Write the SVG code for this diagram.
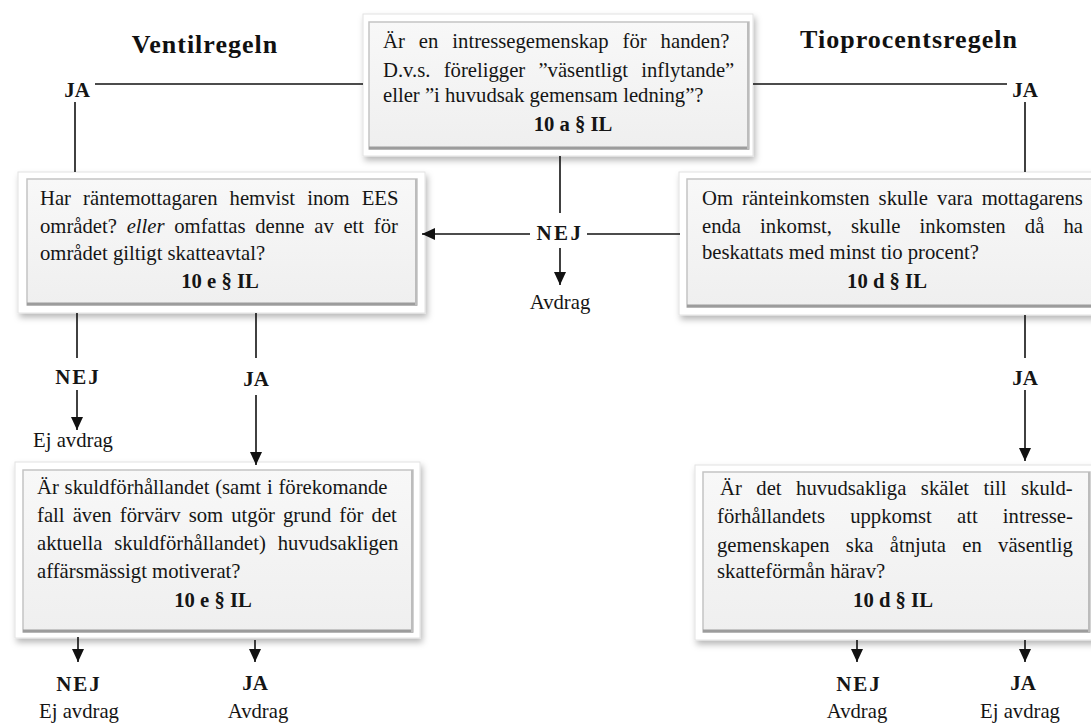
<svg xmlns="http://www.w3.org/2000/svg" width="1091" height="724" viewBox="0 0 1091 724">
<defs>
<style>
.t{font-family:"Liberation Serif","Times New Roman",serif;font-size:20.7px;fill:#151515}
.b{font-weight:bold}
.c{text-anchor:middle}
.lbl{font-family:"Liberation Serif","Times New Roman",serif;font-size:21px;font-weight:bold;fill:#151515;text-anchor:middle}
.ttl{font-family:"Liberation Serif","Times New Roman",serif;font-size:26px;font-weight:bold;fill:#111;text-anchor:middle;letter-spacing:1px}
.outer{fill:#ffffff;stroke:#e2e2e2;stroke-width:1;filter:url(#sh)}
.inner{fill:url(#pg);stroke:#c4c4c4;stroke-width:1.5}
.bot{stroke:#9c9c9c;stroke-width:3}
.rgt{stroke:#bcbcbc;stroke-width:2}
.ln{fill:none;stroke:#111;stroke-width:1.6}
.ar{marker-end:url(#arr)}
</style>
<linearGradient id="pg" x1="0" y1="0" x2="0" y2="1">
<stop offset="0" stop-color="#f8f8f8"/>
<stop offset="1" stop-color="#efefef"/>
</linearGradient>
<filter id="sh" x="-5%" y="-5%" width="115%" height="125%">
<feDropShadow dx="2" dy="4" stdDeviation="3" flood-color="#000" flood-opacity="0.28"/>
</filter>
<marker id="arr" markerUnits="userSpaceOnUse" markerWidth="13" markerHeight="12" refX="13" refY="6" orient="auto">
<path d="M0,0 L13,6 L0,12 z" fill="#111"/>
</marker>
</defs>
<rect width="1091" height="724" fill="#ffffff"/>

<g id="titles">
<text class="ttl" x="205" y="53">Ventilregeln</text>
<text class="ttl" x="909" y="48">Tioprocentsregeln</text>
</g>

<g id="n-top">
<rect class="outer" x="363" y="14" width="390" height="142"/>
<rect class="inner" x="369" y="22" width="380" height="127"/>
<line class="bot" x1="369" y1="148" x2="749" y2="148"/>
<line class="rgt" x1="748" y1="22" x2="748" y2="149"/>
<text class="t" x="383" y="48" word-spacing="8.8">Är en intressegemenskap för handen?</text>
<text class="t" x="383" y="77" word-spacing="8">D.v.s. föreligger ”väsentligt inflytande”</text>
<text class="t" x="383" y="102">eller ”i huvudsak gemensam ledning”?</text>
<text class="t b c" x="573" y="131">10 a § IL</text>
</g>

<g id="n-ees">
<rect class="outer" x="18" y="172" width="407" height="141"/>
<rect class="inner" x="27" y="179" width="390" height="126"/>
<line class="bot" x1="27" y1="304" x2="417" y2="304"/>
<line class="rgt" x1="416" y1="179" x2="416" y2="305"/>
<text class="t" x="40" y="205" word-spacing="6.9">Har räntemottagaren hemvist inom EES</text>
<text class="t" x="40" y="233" word-spacing="4.5">området? <tspan font-style="italic">eller</tspan> omfattas denne av ett för</text>
<text class="t" x="40" y="260">området giltigt skatteavtal?</text>
<text class="t b c" x="220" y="288">10 e § IL</text>
</g>

<g id="n-tio">
<rect class="outer" x="679" y="172" width="420" height="143"/>
<rect class="inner" x="687" y="179" width="410" height="128"/>
<line class="bot" x1="687" y1="306" x2="1097" y2="306"/>
<text class="t" x="702" y="205" word-spacing="3.85">Om ränteinkomsten skulle vara mottagarens</text>
<text class="t" x="702" y="233" word-spacing="13.9">enda inkomst, skulle inkomsten då ha</text>
<text class="t" x="702" y="259">beskattats med minst tio procent?</text>
<text class="t b c" x="887" y="288">10 d § IL</text>
</g>

<g id="n-affar">
<rect class="outer" x="15" y="462" width="405" height="176"/>
<rect class="inner" x="23" y="470" width="390" height="162"/>
<line class="bot" x1="23" y1="631" x2="413" y2="631"/>
<line class="rgt" x1="412" y1="470" x2="412" y2="632"/>
<text class="t" x="37" y="494" word-spacing="0.6">Är skuldförhållandet (samt i förekomande</text>
<text class="t" x="37" y="522" word-spacing="2.9">fall även förvärv som utgör grund för det</text>
<text class="t" x="37" y="550" word-spacing="6.6">aktuella skuldförhållandet) huvudsakligen</text>
<text class="t" x="37" y="578">affärsmässigt motiverat?</text>
<text class="t b c" x="213" y="607">10 e § IL</text>
</g>

<g id="n-skatt">
<rect class="outer" x="695" y="465" width="402" height="175"/>
<rect class="inner" x="703" y="472" width="387" height="160"/>
<line class="bot" x1="703" y1="631" x2="1090" y2="631"/>
<line class="rgt" x1="1089" y1="472" x2="1089" y2="632"/>
<text class="t" x="720" y="495" word-spacing="9.3">Är det huvudsakliga skälet till skuld-</text>
<text class="t" x="717" y="523" word-spacing="20">förhållandets uppkomst att intresse-</text>
<text class="t" x="717" y="552" word-spacing="11.1">gemenskapen ska åtnjuta en väsentlig</text>
<text class="t" x="717" y="578">skatteförmån härav?</text>
<text class="t b c" x="893" y="607">10 d § IL</text>
</g>

<g id="connectors">
<path class="ln" d="M363,84 H95"/>
<path class="ln" d="M75,102 V172"/>
<path class="ln" d="M753,84 H1007"/>
<path class="ln" d="M1025,102 V172"/>
<path class="ln" d="M560,156 V213"/>
<path class="ln ar" d="M530,234 H422"/>
<path class="ln" d="M587,234 H680"/>
<path class="ln ar" d="M560,248 V285"/>
<path class="ln" d="M77,313 V358"/>
<path class="ln ar" d="M77,390 V430"/>
<path class="ln" d="M256,313 V358"/>
<path class="ln ar" d="M256,395 V465"/>
<path class="ln" d="M1025,315 V358"/>
<path class="ln ar" d="M1025,390 V461"/>
<path class="ln ar" d="M78,637 V662"/>
<path class="ln ar" d="M255,640 V662"/>
<path class="ln ar" d="M857,640 V662"/>
<path class="ln ar" d="M1025,640 V662"/>
</g>

<g id="labels">
<text class="lbl" x="77" y="97">JA</text>
<text class="lbl" x="1025" y="97">JA</text>
<text class="lbl" x="560" y="240" letter-spacing="2.5">NEJ</text>
<text class="t c" x="560" y="309">Avdrag</text>
<text class="lbl" x="78" y="384" letter-spacing="2">NEJ</text>
<text class="t c" x="73" y="447">Ej avdrag</text>
<text class="lbl" x="256" y="386">JA</text>
<text class="lbl" x="1025" y="385">JA</text>
<text class="lbl" x="79" y="691" letter-spacing="2">NEJ</text>
<text class="t c" x="79" y="718">Ej avdrag</text>
<text class="lbl" x="255" y="690">JA</text>
<text class="t c" x="258" y="718">Avdrag</text>
<text class="lbl" x="859" y="691" letter-spacing="2">NEJ</text>
<text class="t c" x="857" y="718">Avdrag</text>
<text class="lbl" x="1023" y="690">JA</text>
<text class="t c" x="1020" y="718">Ej avdrag</text>
</g>
</svg>
